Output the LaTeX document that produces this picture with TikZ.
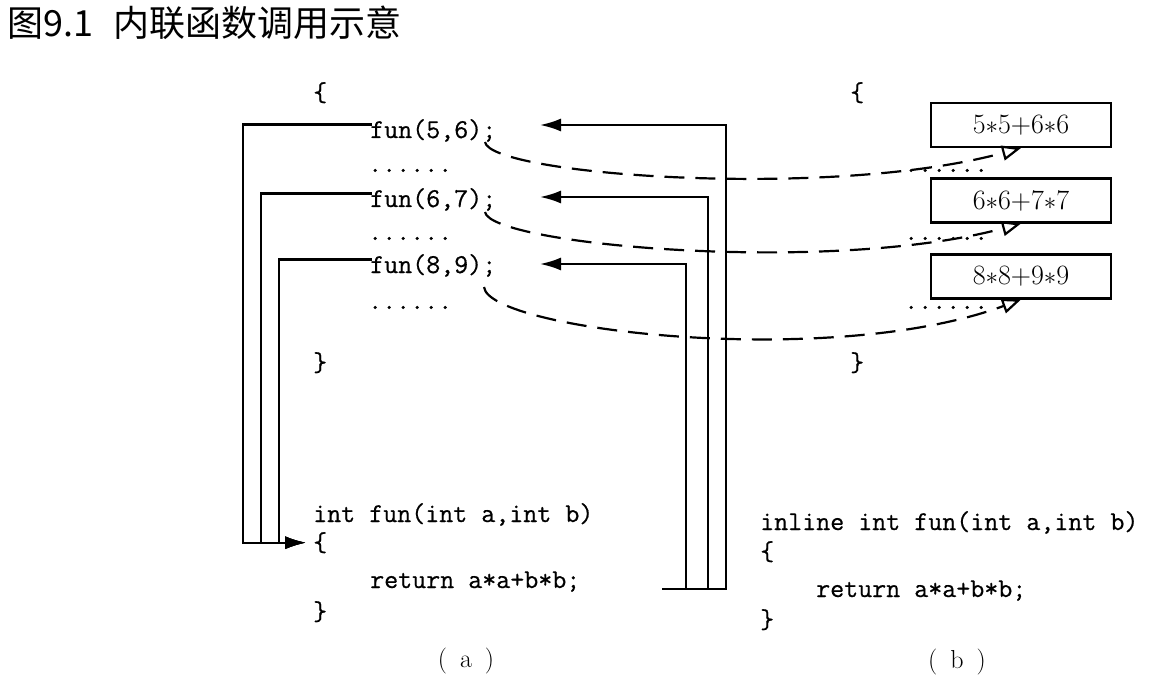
\documentclass[tikz,border=0pt]{standalone}
\usepackage{fontspec}
\newfontfamily\cjk{Noto Sans CJK SC}
\newfontfamily\codefont{Latin Modern Mono}[FakeBold=0.6]
\usetikzlibrary{arrows.meta}
\begin{document}
\begin{tikzpicture}[x=1pt,y=-1pt,
  code/.style={anchor=base west,inner sep=0pt,font=\fontsize{27.2}{32}\selectfont\codefont},
  resbox/.style={draw,line width=2.1pt,minimum width=180pt,minimum height=44pt,inner sep=0pt,font=\fontsize{28}{32}\selectfont\rmfamily},
  conn/.style={line width=2.2pt},
  callarrow/.style={conn,-{Latex[length=21pt,width=13pt]}},
  dashline/.style={line width=2.2pt,dash pattern=on 20pt off 11pt,-{Triangle[open,length=19pt,width=15pt]}},
  caption/.style={inner sep=0pt,font=\fontsize{26}{30}\selectfont\rmfamily}]
\useasboundingbox (0,0) rectangle (1154,679);
% title
\node[anchor=west,inner sep=0pt,font=\cjk\fontsize{36}{44}\selectfont] (title) at (7,23) {图9.1\hspace{20pt}内联函数调用示意};
% ---- (a) ----
\node[code] (la) at (313,101) {\{};
\node[code] (f1) at (370,138) {fun(5,6);};
\node[code] (d1) at (368,172) {......};
\node[code] (f2) at (370,207) {fun(6,7);};
\node[code] (d2) at (368,240) {......};
\node[code] (f3) at (370,273) {fun(8,9);};
\node[code] (d3) at (368,309) {......};
\node[code] (lz) at (313,371) {\}};
\node[code] (ldef) at (313,522) {int fun(int a,int b)};
\node[code] (lb) at (313,551) {\{};
\node[code] (lret) at (370,588) {return a*a+b*b;};
\node[code] (le) at (313,620) {\}};
\node[caption] (capa) at (466,661) {(\hspace{13pt}a\hspace{13pt})};
% calls to the function
\draw[callarrow] ([xshift=2pt,yshift=6pt]f1.west) -| ([xshift=-70pt]lb.west) -- ([xshift=-7pt]lb.west);
\draw[callarrow] ([xshift=2pt,yshift=6pt]f2.west) -| ([xshift=-52pt]lb.west) -- ([xshift=-7pt]lb.west);
\draw[callarrow] ([xshift=2pt,yshift=6pt]f3.west) -| ([xshift=-34pt]lb.west) -- ([xshift=-7pt]lb.west);
% returns
\coordinate (rs) at (662,589);
\coordinate (t1) at (540,125);
\coordinate (t2) at (540,197);
\coordinate (t3) at (540,264);
\draw[callarrow] (rs) -| (726,125) -- (t1);
\draw[callarrow] (rs) -| (708,197) -- (t2);
\draw[callarrow] (rs) -| (686,264) -- (t3);
% ---- (b) ----
\node[code] (ra) at (850,101) {\{};
\node[code] (e1) at (904,172) {......};
\node[code] (e2) at (904,240) {......};
\node[code] (e3) at (904,309) {......};
\node[code] (rz) at (850,371) {\}};
\node[resbox] (b1) at (1021,125) {5$\ast$5+6$\ast$6};
\node[resbox] (b2) at (1021,200.5) {6$\ast$6+7$\ast$7};
\node[resbox] (b3) at (1021,276.5) {8$\ast$8+9$\ast$9};
\node[code] (rdef) at (760,530) {inline int fun(int a,int b)};
\node[code] (rb) at (760,560) {\{};
\node[code] (rret) at (816,597) {return a*a+b*b;};
\node[code] (re) at (760,628) {\}};
\node[caption] (capb) at (957,662) {(\hspace{13pt}b\hspace{13pt})};
% inline expansion
\coordinate (s1) at (485,142);
\coordinate (s2) at (485,212);
\coordinate (s3) at (484,287);
\draw[dashline] (s1) .. controls (490,175) and (830,200) .. (b1.south);
\draw[dashline] (s2) .. controls (490,245) and (830,275) .. (b2.south);
\draw[dashline] (s3) .. controls (488,330) and (830,370) .. (b3.south);
\end{tikzpicture}
\end{document}
